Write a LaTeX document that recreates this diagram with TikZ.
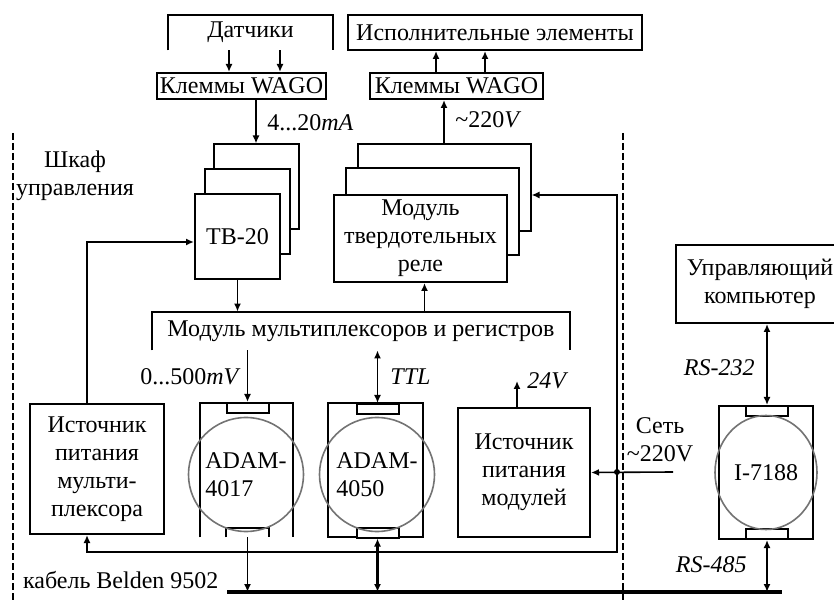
\documentclass[tikz,border=0pt]{standalone}
\usepackage{fontspec}
\setmainfont{Liberation Serif}
\usetikzlibrary{arrows.meta,shapes.geometric,calc}
\newcommand{\openbox}[1]{%
  \draw[box line] (#1.south west) -- (#1.north west) -- (#1.north east) -- (#1.south east);%
}
\begin{document}
\begin{tikzpicture}[x=0.5pt,y=-0.5pt,
  font=\fontsize{12}{14}\selectfont,
  box line/.style={line width=1pt},
  blk/.style={draw,line width=1pt,fill=white,align=center,inner sep=0pt},
  hole/.style={align=center,inner sep=0pt},
  conn/.style={draw,line width=1pt,fill=white,minimum width=21pt,minimum height=5pt,inner sep=0pt},
  disc/.style={ellipse,draw=black!55,line width=0.8pt,minimum width=51pt,minimum height=57pt,inner sep=0pt,align=left},
  arr/.style={line width=0.8pt,-{Latex[length=4pt,width=3.5pt]}},
  arrs/.style={line width=0.8pt,{Latex[length=4pt,width=3.5pt]}-{Latex[length=4pt,width=3.5pt]}},
  lbl/.style={inner sep=1pt},
  cut/.style={line width=0.6pt,dash pattern=on 3.5pt off 1.5pt}]
\useasboundingbox (0,0) rectangle (834,603);
% top row
\node[hole,minimum width=82.5pt,minimum height=17.5pt] (datch) at (250.5,32.5) {Датчики};
\openbox{datch}
\node[blk,minimum width=84.5pt,minimum height=13pt] (wagoL) at (241.5,86) {Клеммы WAGO};
\node[blk,minimum width=147pt,minimum height=17.5pt] (ispol) at (495,32.5) {Исполнительные элементы};
\node[blk,minimum width=86.5pt,minimum height=13pt] (wagoR) at (456.5,86) {Клеммы WAGO};
% stacked modules
\node[blk,minimum size=42.5pt] (tb3) at (256,187) {};
\node[blk,minimum size=42.5pt] (tb2) at (247,212) {};
\node[blk,minimum size=42.5pt] (tb1) at (237.5,236.5) {TB-20};
\node[blk,minimum width=86.5pt,minimum height=43.5pt] (rl3) at (444,188) {};
\node[blk,minimum width=86.5pt,minimum height=43.5pt] (rl2) at (432,212) {};
\node[blk,minimum width=86.5pt,minimum height=43.5pt] (rl1) at (420.5,238.5) {Модуль\\твердотельных\\реле};
\node[hole,minimum width=209pt,minimum height=19pt] (mux) at (361,331) {Модуль мультиплексоров и регистров};
\openbox{mux}
% power sources
\node[blk,minimum width=67pt,minimum height=65pt] (ipm) at (97,469) {Источник\\питания\\мульти-\\плексора};
\node[blk,minimum width=66pt,minimum height=64.5pt] (ipmod) at (524,472.5) {Источник\\питания\\модулей};
% ADAM-4017
\node[hole,minimum width=46.5pt,minimum height=67pt] (a17) at (246.5,470) {};
\openbox{a17}
\node[conn] (a17t) at (247.5,408) {};
\node[hole,minimum width=21pt,minimum height=4.5pt] (a17b) at (247.5,532.5) {};
\openbox{a17b}
\node[disc] (a17c) at (246,474.5) {ADAM-\\4017};
% ADAM-4050
\node[blk,minimum width=47.5pt,minimum height=67pt] (a50) at (375.5,470) {};
\node[conn] (a50t) at (377.5,409) {};
\node[conn] (a50b) at (377.5,532.5) {};
\node[disc] (a50c) at (377,474.5) {ADAM-\\4050};
% I-7188 and computer
\node[blk,minimum width=47pt,minimum height=66.5pt] (i71) at (766,472.5) {};
\node[conn] (i71t) at (767,411) {};
\node[conn] (i71b) at (767,534) {};
\node[disc] (i71c) at (766,472.5) {I-7188};
\node[blk,minimum width=84pt,minimum height=39pt] (comp) at (760,284) {Управляющий\\компьютер};
% texts
\node[align=center] (shkaf) at (75,176) {Шкаф\\управления};
\node[anchor=west] (cab) at (16,580) {кабель Belden 9502};
\node[align=center] (set) at (660,440) {Сеть\\\textasciitilde220V};
\node[lbl,anchor=west] (l420) at (265,123) {4...20\textit{mA}};
\node[lbl,anchor=west] (l220) at (453,120) {\textasciitilde220\textit{V}};
\node[lbl,anchor=east] (l500) at (243,377) {0...500\textit{mV}};
\node[lbl,anchor=west] (lttl) at (388,377) {\textit{TTL}};
\node[lbl,anchor=west] (l24) at (525,381) {\textit{24V}};
\node[lbl,anchor=east] (l232) at (757,368) {\textit{RS-232}};
\node[lbl,anchor=east] (l485) at (749,565) {\textit{RS-485}};
% bus and borders
\coordinate (busL) at (227,592);
\coordinate (busR) at (782,592);
\draw[line width=2pt] (busL) -- (busR);
\coordinate (dlT) at (13,133);
\coordinate (dlB) at (13,603);
\coordinate (drT) at (623,133);
\coordinate (drB) at (623,603);
\draw[cut] (dlT) -- (dlB);
\draw[cut] (drT) -- (drB);
% connections
\coordinate (d1) at ([xshift=-10.75pt]datch.south);
\coordinate (d2) at ([xshift=14.75pt]datch.south);
\draw[arr] (d1) -- (d1 |- wagoL.north);
\draw[arr] (d2) -- (d2 |- wagoL.north);
\coordinate (w1) at ([xshift=-10.25pt]wagoR.north);
\coordinate (w2) at ([xshift=14.25pt]wagoR.north);
\draw[arr] (w1) -- (w1 |- ispol.south);
\draw[arr] (w2) -- (w2 |- ispol.south);
\draw[arr] (tb3.north |- wagoL.south) -- (tb3.north);
\draw[arr] (rl3.north) -- (rl3.north |- wagoR.south);
\draw[arr] (tb1.south) -- (tb1.south |- mux.north);
\coordinate (m1) at ([xshift=2pt]rl1.south);
\draw[arr] (m1 |- mux.north) -- (m1);
\coordinate (p1) at ([xshift=-5pt]ipm.north);
\coordinate (p2) at ([xshift=-5pt]ipm.south);
\draw[arr] (p1) |- ([yshift=-2.75pt]tb1.west);
\coordinate (net) at (673,472);
\coordinate (jn) at (617,472);
\coordinate (fd) at (617,552);
\draw[arr] (net) -- (ipmod.east);
\draw[arr] (jn) |- ([yshift=-3.5pt]rl3.east);
\draw[arr] (jn) -- (fd) -| (p2);
\fill (jn) circle [radius=1.5pt];
\draw[arr] (a17t.north |- mux.south) -- (a17t.north);
\draw[arr] (a17b.south) -- (a17b.south |- busL);
\draw[arrs] (a50t.north |- mux.south) -- (a50t.north);
\draw[arrs,line width=1.5pt] (a50b.south) -- (a50b.south |- busL);
\coordinate (v24) at ([xshift=-3.5pt]ipmod.north);
\draw[arr] (v24) -- (v24 |- l24.west);
\draw[arrs] (i71t.north |- comp.south) -- (i71t.north);
\draw[arrs] (i71b.south) -- (i71b.south |- busL);
\end{tikzpicture}
\end{document}
